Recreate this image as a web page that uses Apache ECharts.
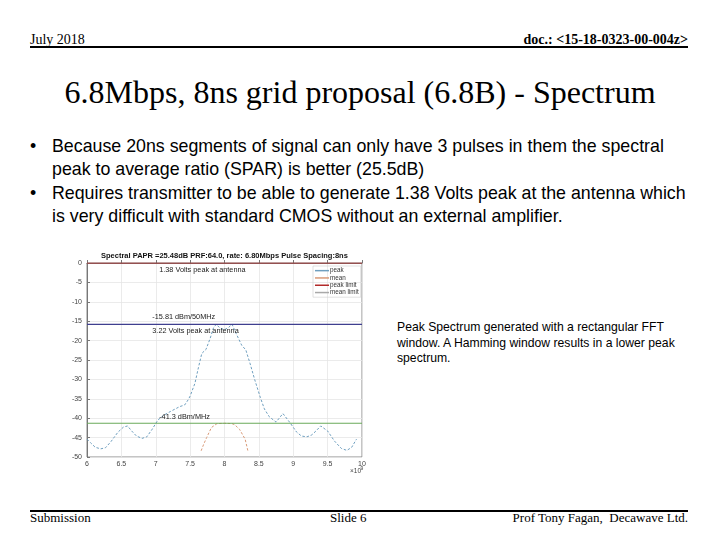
<!DOCTYPE html>
<html>
<head>
<meta charset="utf-8">
<script src="https://cdn.jsdelivr.net/npm/echarts@6/dist/echarts.min.js"></script>
<style>
  html, body { margin:0; padding:0; background:#fff; width:720px; height:540px; overflow:hidden; }
  .t { position:absolute; white-space:nowrap; color:#000; line-height:1; }
  .serif { font-family:"Liberation Serif","DejaVu Serif",serif; }
  .sans { font-family:"Liberation Sans",Arial,sans-serif; }
  .rule { position:absolute; background:#000; }
  #chart { position:absolute; left:0; top:240px; width:380px; height:240px; }
</style>
</head>
<body>
<div class="t serif" style="left:30px;top:33px;font-size:14px;">July 2018</div>
<div class="t serif" style="right:32px;top:33px;font-size:14px;font-weight:bold;">doc.: &lt;15-18-0323-00-004z&gt;</div>
<div class="rule" style="left:30px;top:46px;width:658px;height:2px;"></div>

<div class="t serif" style="left:0;width:720px;text-align:center;top:76px;font-size:32px;">6.8Mbps, 8ns grid proposal (6.8B) - Spectrum</div>

<div class="t sans" style="left:30px;top:138px;font-size:17.8px;">•</div>
<div class="t sans" style="left:52px;top:138px;font-size:17.8px;">Because 20ns segments of signal can only have 3 pulses in them the spectral</div>
<div class="t sans" style="left:52px;top:161px;font-size:17.8px;">peak to average ratio (SPAR) is better (25.5dB)</div>
<div class="t sans" style="left:30px;top:185px;font-size:17.8px;">•</div>
<div class="t sans" style="left:52px;top:185px;font-size:17.8px;">Requires transmitter to be able to generate 1.38 Volts peak at the antenna which</div>
<div class="t sans" style="left:52px;top:208px;font-size:17.8px;">is very difficult with standard CMOS without an external amplifier.</div>

<div class="t sans" style="left:397px;top:321px;font-size:12.2px;">Peak Spectrum generated with a rectangular FFT</div>
<div class="t sans" style="left:397px;top:337px;font-size:12.2px;">window. A Hamming window results in a lower peak</div>
<div class="t sans" style="left:397px;top:352px;font-size:12.2px;">spectrum.</div>

<div class="rule" style="left:30px;top:510px;width:658px;height:2px;"></div>
<div class="t serif" style="left:30px;top:511px;font-size:13px;">Submission</div>
<div class="t serif" style="left:330px;top:511px;font-size:13px;">Slide 6</div>
<div class="t serif" style="right:32px;top:511px;font-size:13px;">Prof Tony Fagan,&nbsp; Decawave Ltd.</div>

<div id="chart"></div>

<script>
// ---- data (frequency in units of 1e9 Hz, level in dB) ----
const peakFreq = [6.00,6.05,6.12,6.20,6.27,6.35,6.45,6.53,6.59,6.65,6.72,6.80,6.87,6.95,7.03,7.11,7.21,7.35,7.42,7.47,7.50,7.57,7.62,7.67,7.73,7.79,7.84,7.88,7.93,8.00,8.06,8.11,8.17,8.25,8.31,8.37,8.44,8.52,8.58,8.65,8.75,8.85,8.95,9.05,9.12,9.20,9.27,9.33,9.40,9.50,9.60,9.70,9.78,9.85,9.92];
const peakLevel = [-45.4,-46.3,-47.5,-47.9,-47.6,-46.0,-43.6,-42.3,-42.0,-43.3,-44.6,-45.2,-44.8,-42.8,-40.5,-39.3,-38.3,-37.0,-36.6,-35.3,-34.3,-31.0,-27.0,-23.3,-22.3,-19.5,-16.7,-15.8,-16.7,-17.2,-16.6,-15.8,-18.2,-21.2,-22.4,-25.8,-30.1,-34.6,-37.6,-39.6,-41.0,-38.8,-41.1,-43.6,-44.6,-44.8,-44.3,-43.3,-42.0,-43.3,-45.9,-47.8,-48.3,-47.5,-45.4];
const meanFreq = [7.66,7.70,7.74,7.81,7.89,8.00,8.11,8.15,8.22,8.30,8.34];
const meanLevel = [-48.4,-46.6,-45.0,-42.4,-41.4,-41.3,-41.4,-41.7,-42.9,-45.4,-48.4];
const peakLimit = 0;
const peakMarker = -15.81;
const meanLimit = -41.3;
const xTicks = [6,6.5,7,7.5,8,8.5,9,9.5,10];
const chartTitle = 'Spectral PAPR =25.48dB PRF:64.0, rate: 6.80Mbps Pulse Spacing:8ns';
const annotations = [
  {text:'1.38 Volts peak at antenna', x:7.05, y:-1.7},
  {text:'-15.81 dBm/50MHz', x:6.95, y:-13.9},
  {text:'3.22 Volts peak at antenna', x:6.95, y:-17.5},
  {text:'-41.3 dBm/MHz', x:7.05, y:-39.6}
];

const pair = (xs, ys) => xs.map((x,i)=>[x, ys[i]]);
const hline = v => [[6, v],[10, v]];

const chart = echarts.init(document.getElementById('chart'), null, {renderer:'canvas'});
const font = '"Liberation Sans", Arial, sans-serif';
chart.setOption({
  animation:false,
  title:{ text:chartTitle, left:101, top:12, padding:0, textStyle:{fontSize:7.5, fontWeight:'bold', color:'#111', fontFamily:font}},
  grid:{ left:87, top:23, width:275, height:194, show:true, borderColor:'#8a8a8a', borderWidth:1 },
  legend:{
    orient:'vertical', left:313, top:26, itemWidth:14, itemHeight:1.5, itemGap:0,
    icon:'rect', padding:[1,2,1,2], borderColor:'#cfcfcf', borderWidth:0.6,
    textStyle:{fontSize:6.3, color:'#333', fontFamily:font, lineHeight:7.3, padding:[0,0,0,-4]},
    data:['peak','mean','peak limit','mean limit']
  },
  xAxis:{ type:'value', min:6, max:10, interval:0.5,
    axisLine:{lineStyle:{color:'#777'}}, axisTick:{inside:true, length:3, lineStyle:{color:'#777'}},
    axisLabel:{fontSize:7, color:'#444', fontFamily:font, margin:4,
      formatter:v => xTicks.includes(v) ? String(v) : ''},
    splitLine:{show:true, lineStyle:{color:'#e6e6e6', width:0.8}} },
  yAxis:{ type:'value', min:-50, max:0, interval:5,
    axisLine:{show:true, lineStyle:{color:'#777'}}, axisTick:{show:true, inside:true, length:3, lineStyle:{color:'#777'}},
    axisLabel:{fontSize:7, color:'#444', fontFamily:font, margin:5},
    splitLine:{show:true, lineStyle:{color:'#e6e6e6', width:0.8}} },
  series:[
    { name:'peak', type:'line', data:pair(peakFreq, peakLevel), symbol:'none', z:3,
      color:'#6f9fbf', lineStyle:{width:1, type:[2.5,1.8], color:'#6f9fbf'} },
    { name:'mean', type:'line', data:pair(meanFreq, meanLevel), symbol:'none', z:3,
      color:'#d99a78', lineStyle:{width:1, type:[2.5,1.8], color:'#d99a78'} },
    { name:'peak limit', type:'line', data:hline(peakLimit), symbol:'none', z:4,
      color:'#b22a2a', lineStyle:{width:1.2, color:'#b22a2a'} },
    { name:'mean limit', type:'line', data:hline(meanLimit), symbol:'none', z:4,
      color:'#a9a9a9', lineStyle:{width:1.2, color:'#6aaa5a'} },
    { name:'marker', type:'line', data:hline(peakMarker), symbol:'none', z:4,
      lineStyle:{width:1.2, color:'#3f3f8f'} }
  ]
});

function drawAnnotations(){
  const els = annotations.map(a => {
    const p = chart.convertToPixel({gridIndex:0}, [a.x, a.y]);
    return { type:'text', x:p[0], y:p[1], z:10,
      style:{ text:a.text, fontSize:7.3, fill:'#222', fontFamily:font, textVerticalAlign:'middle', verticalAlign:'middle' } };
  });
  const c = chart.convertToPixel({gridIndex:0}, [10, -50]);
  els.push({ type:'text', x:c[0]-12, y:c[1]+11, z:10,
    style:{ text:'×10', fontSize:6.5, fill:'#444', fontFamily:font } });
  els.push({ type:'text', x:c[0]-1.5, y:c[1]+9, z:10,
    style:{ text:'9', fontSize:5, fill:'#444', fontFamily:font } });
  chart.setOption({ graphic:{ elements: els } });
}
drawAnnotations();
</script>
</body>
</html>
